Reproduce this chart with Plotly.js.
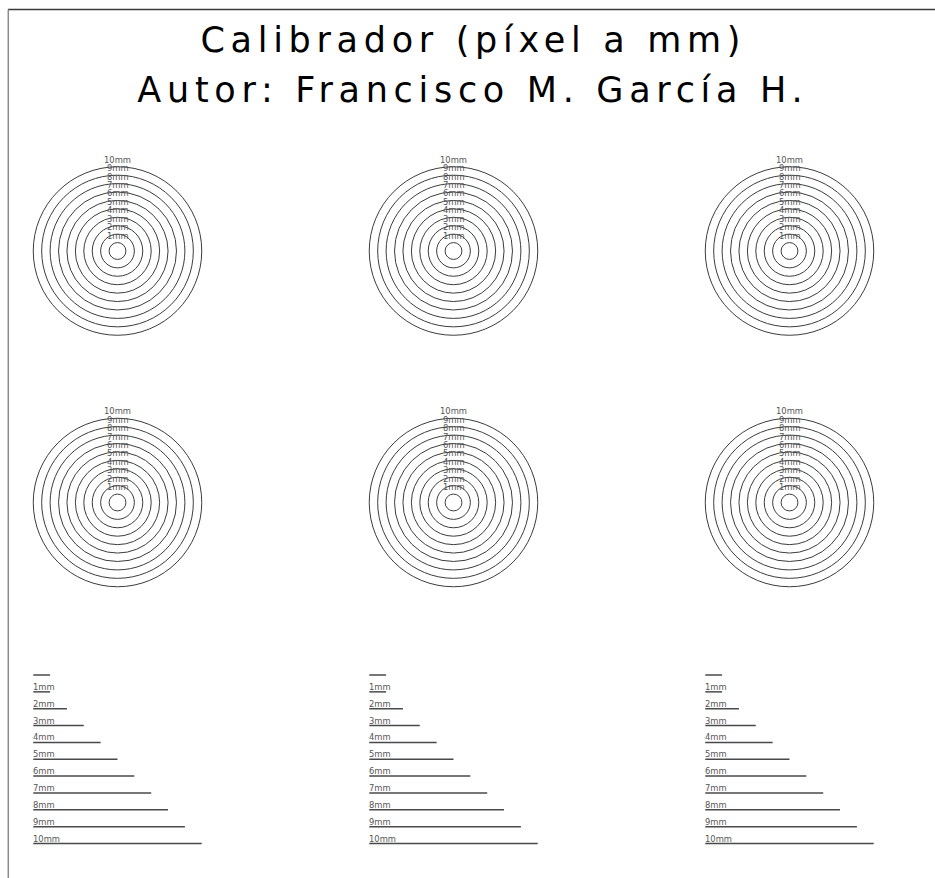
<!DOCTYPE html>
<html>
<head>
<meta charset="utf-8">
<script src="https://cdn.plot.ly/plotly-3.0.1.min.js"></script>
<style>
html,body{margin:0;padding:0;background:#fff;}
#chart{width:935px;height:878px;}
.annotation[data-index="0"] text, .annotation[data-index="1"] text { letter-spacing: 5.7px; }
</style>
</head>
<body>
<div id="chart"></div>
<script>
// ---- data ----
const titleLines = ["Calibrador (píxel a mm)", "Autor: Francisco M. García H."];
const circleDiametersMm = [1, 2, 3, 4, 5, 6, 7, 8, 9, 10];
const circleLabels = ["1mm", "2mm", "3mm", "4mm", "5mm", "6mm", "7mm", "8mm", "9mm", "10mm"];
const rulerLengthsMm = [1, 1, 2, 3, 4, 5, 6, 7, 8, 9, 10];
const rulerLabels = ["", "1mm", "2mm", "3mm", "4mm", "5mm", "6mm", "7mm", "8mm", "9mm", "10mm"];

// ---- layout constants (pixels) ----
const W = 935, H = 878;
const S = 16.85;                 // pixels per millimetre
const colCentersPx = [117.5, 453.5, 789.5];
const rowCentersPx = [251, 502.5];
const rulerTopPx = 675;
const FONT = "DejaVu Sans, Verdana, sans-serif";

const mm = px => px / S;
const shapes = [];
const annotations = [];
const traces = [];

// frame (top and left)
shapes.push({type: "line", xref: "paper", yref: "paper", x0: 8 / W, x1: 1, y0: 1 - 9.5 / H, y1: 1 - 9.5 / H,
  line: {color: "#3a3a3a", width: 1.5}});
shapes.push({type: "line", xref: "paper", yref: "paper", x0: 8.3 / W, x1: 8.3 / W, y0: 0, y1: 1 - 9.5 / H,
  line: {color: "#8a8a8a", width: 1.5}});

// title
titleLines.forEach((t, i) => {
  annotations.push({xref: "x", yref: "y", x: mm(473), y: mm(40 + i * 50), text: t, showarrow: false,
    xanchor: "center", yanchor: "middle", font: {family: FONT, size: 35, color: "#000"}});
});

// concentric circles
rowCentersPx.forEach(cyPx => {
  colCentersPx.forEach(cxPx => {
    const cx = mm(cxPx), cy = mm(cyPx);
    circleDiametersMm.forEach((d, k) => {
      const r = d / 2;
      shapes.push({type: "circle", xref: "x", yref: "y", x0: cx - r, x1: cx + r, y0: cy - r, y1: cy + r,
        line: {color: "#3c3c3c", width: 1}});
      annotations.push({xref: "x", yref: "y", x: cx, y: cy - r, text: circleLabels[k], showarrow: false,
        xanchor: "center", yanchor: "bottom", borderpad: 0, yshift: 1,
        font: {family: FONT, size: 8.4, color: "#555"}});
    });
  });
});

// rulers
colCentersPx.forEach(cxPx => {
  const x0 = mm(cxPx) - 5;
  const xs = [], ys = [];
  rulerLengthsMm.forEach((len, k) => {
    const y = mm(rulerTopPx) + k;
    xs.push(x0, x0 + len, null);
    ys.push(y, y, null);
    if (rulerLabels[k]) {
      annotations.push({xref: "x", yref: "y", x: x0, y: y, text: rulerLabels[k], showarrow: false,
        xanchor: "left", yanchor: "bottom", borderpad: 0, yshift: -1, xshift: -1,
        font: {family: FONT, size: 8.4, color: "#555"}});
    }
  });
  traces.push({type: "scatter", mode: "lines", x: xs, y: ys, hoverinfo: "skip", showlegend: false,
    line: {color: "#4a4a4a", width: 1.5}});
});

const layout = {
  width: W, height: H,
  margin: {l: 0, r: 0, t: 0, b: 0},
  paper_bgcolor: "#fff", plot_bgcolor: "#fff",
  xaxis: {range: [0, mm(W)], visible: false, fixedrange: true},
  yaxis: {range: [mm(H), 0], visible: false, fixedrange: true},
  shapes: shapes,
  annotations: annotations,
  showlegend: false
};

Plotly.newPlot("chart", traces, layout, {displayModeBar: false, staticPlot: true});
</script>
</body>
</html>
